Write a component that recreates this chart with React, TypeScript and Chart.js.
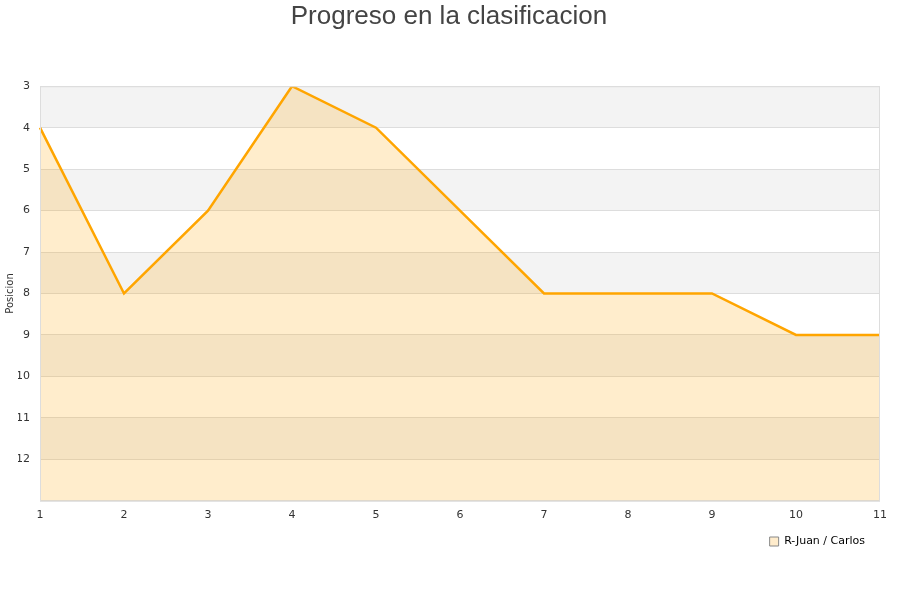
import React, { useEffect, useRef } from "react";
import { Chart, registerables } from "chart.js";

Chart.register(...registerables);

const jornadas = ["1", "2", "3", "4", "5", "6", "7", "8", "9", "10", "11"];
const posiciones = [4, 8, 6, 3, 4, 6, 8, 8, 8, 9, 9];
const seriesName = "R-Juan / Carlos";
const chartTitle = "Progreso en la clasificacion";
const yTitle = "Posicion";
const yMin = 3;
const yMax = 13;

const bandsPlugin = {
  id: "bands",
  beforeDraw(chart: any) {
    const { ctx, chartArea } = chart;
    const y = chart.scales.y;
    ctx.save();
    ctx.fillStyle = "#ffffff";
    ctx.fillRect(chartArea.left, chartArea.top, chartArea.right - chartArea.left, chartArea.bottom - chartArea.top);
    ctx.fillStyle = "#f3f3f3";
    for (let v = yMin; v < yMax; v += 2) {
      const p1 = y.getPixelForValue(v);
      const p2 = y.getPixelForValue(v + 1);
      ctx.fillRect(chartArea.left, Math.min(p1, p2), chartArea.right - chartArea.left, Math.abs(p2 - p1));
    }
    ctx.restore();
  },
  afterDatasetsDraw(chart: any) {
    const { ctx, chartArea } = chart;
    ctx.save();
    ctx.strokeStyle = "#dddddd";
    ctx.lineWidth = 1;
    ctx.strokeRect(chartArea.left + 0.5, chartArea.top + 0.5, chartArea.right - chartArea.left - 1, chartArea.bottom - chartArea.top);
    ctx.restore();
  },
};

export default function App() {
  const ref = useRef<HTMLCanvasElement | null>(null);
  useEffect(() => {
    if (!ref.current) return;
    const chart = new Chart(ref.current, {
      type: "line",
      data: {
        labels: jornadas,
        datasets: [
          {
            label: seriesName,
            data: posiciones,
            borderColor: "#ffa500",
            backgroundColor: "rgba(255,165,0,0.2)",
            borderWidth: 2.5,
            pointRadius: 0,
            tension: 0,
            fill: { value: yMax },
          },
        ],
      },
      options: {
        animation: false,
        responsive: false,
        maintainAspectRatio: false,
        layout: { padding: { left: 18, right: 20, top: 0, bottom: 43 } },
        plugins: {
          title: {
            display: true,
            text: chartTitle,
            color: "#444444",
            font: { family: "Liberation Sans", size: 26, weight: "normal" },
            padding: { top: 1, bottom: 54 },
          },
          legend: {
            display: true,
            position: "bottom",
            align: "end",
            labels: {
              color: "#000000",
              font: { family: "DejaVu Sans", size: 11 },
              boxWidth: 9,
              boxHeight: 9,
              padding: 15,
              generateLabels: (c: any) =>
                c.data.datasets.map((d: any, i: number) => ({
                  text: d.label,
                  fillStyle: "#ffeccc",
                  strokeStyle: "#888888",
                  lineWidth: 1,
                  hidden: false,
                  datasetIndex: i,
                  fontColor: "#000000",
                })),
            },
          },
          tooltip: { enabled: false },
        },
        scales: {
          x: {
            type: "category",
            offset: false,
            grid: { display: false, drawTicks: false },
            border: { display: false },
            afterFit: (s: any) => {
              s.height = s.height - 9;
            },
            ticks: {
              color: "#333333",
              font: { family: "DejaVu Sans", size: 11 },
              padding: 8,
              maxRotation: 0,
              autoSkip: false,
            },
          },
          y: {
            type: "linear",
            reverse: true,
            min: yMin,
            max: yMax,
            afterFit: (s: any) => {
              s.width = 22;
            },
            grid: { color: "#dddddd", drawTicks: false, lineWidth: 1 },
            border: { display: false },
            ticks: {
              stepSize: 1,
              color: "#333333",
              font: { family: "DejaVu Sans", size: 11 },
              padding: 10,
              callback: (v: any) => (v === yMax ? "" : String(v)),
            },
            title: {
              display: true,
              text: yTitle,
              color: "#333333",
              font: { family: "DejaVu Sans", size: 10 },
              padding: { top: -14, bottom: 0 },
            },
          },
        },
      },
      plugins: [bandsPlugin],
    });
    return () => chart.destroy();
  }, []);
  return (
    <div style={{ position: "absolute", left: 0, top: 0, width: 900, height: 600, background: "#fff" }}>
      <canvas ref={ref} width={900} height={600} style={{ width: 900, height: 600 }} />
    </div>
  );
}
